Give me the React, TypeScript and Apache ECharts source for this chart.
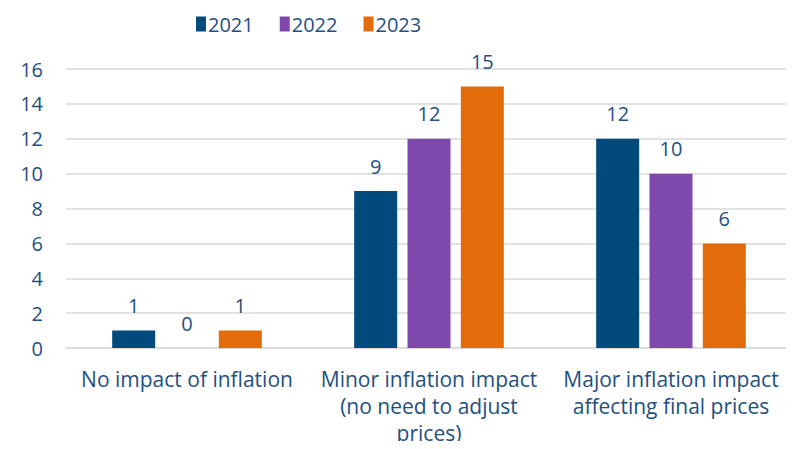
import React, { useEffect, useRef } from "react";
import * as echarts from "echarts";

const categories = [
  "No impact of inflation",
  "Minor inflation impact\n(no need to adjust\nprices)",
  "Major inflation impact\naffecting final prices",
];
const seriesNames = ["2021", "2022", "2023"];
const values2021 = [1, 9, 12];
const values2022 = [0, 12, 10];
const values2023 = [1, 15, 6];
const colors = ["#004a7c", "#7e48ad", "#e36c0a"];
const TEXT = "#1f5080";
const FONT = "'Open Sans', 'Noto Sans', sans-serif";

export default function App() {
  const ref = useRef<HTMLDivElement>(null);
  useEffect(() => {
    if (!ref.current) return;
    const chart = echarts.init(ref.current, undefined, { renderer: "svg" });
    const allValues = [values2021, values2022, values2023];
    chart.setOption({
      animation: false,
      textStyle: { fontFamily: FONT },
      legend: {
        top: 9,
        left: 191,
        itemWidth: 10,
        itemHeight: 15,
        itemGap: 26,
        icon: "rect",
        textStyle: { fontSize: 20, color: TEXT, fontFamily: FONT, padding: [0, 0, 0, -3] },
        data: seriesNames,
      },
      grid: { left: 66, right: 2, top: 69, bottom: 101, containLabel: false },
      xAxis: {
        type: "category",
        data: categories,
        axisLine: { lineStyle: { color: "#d9d9d9", width: 1.5 } },
        axisTick: { show: false },
        axisLabel: {
          color: TEXT,
          fontSize: 21,
          lineHeight: 27,
          margin: 17,
          interval: 0,
          fontFamily: FONT,
        },
      },
      yAxis: {
        type: "value",
        min: 0,
        max: 16,
        interval: 2,
        axisLine: { show: false },
        axisTick: { show: false },
        axisLabel: { color: TEXT, fontSize: 20, margin: 23, fontFamily: FONT },
        splitLine: { lineStyle: { color: "#d9d9d9", width: 1.5 } },
      },
      series: seriesNames.map((name, i) => ({
        name,
        type: "bar",
        data: allValues[i],
        barWidth: 43,
        barGap: "24%",
        itemStyle: { color: colors[i] },
        label: {
          show: true,
          position: "top",
          distance: 15,
          color: TEXT,
          fontSize: 20,
          fontFamily: FONT,
        },
      })),
    });
    return () => chart.dispose();
  }, []);
  return <div ref={ref} style={{ width: 794, height: 449, margin: -8 }} />;
}
